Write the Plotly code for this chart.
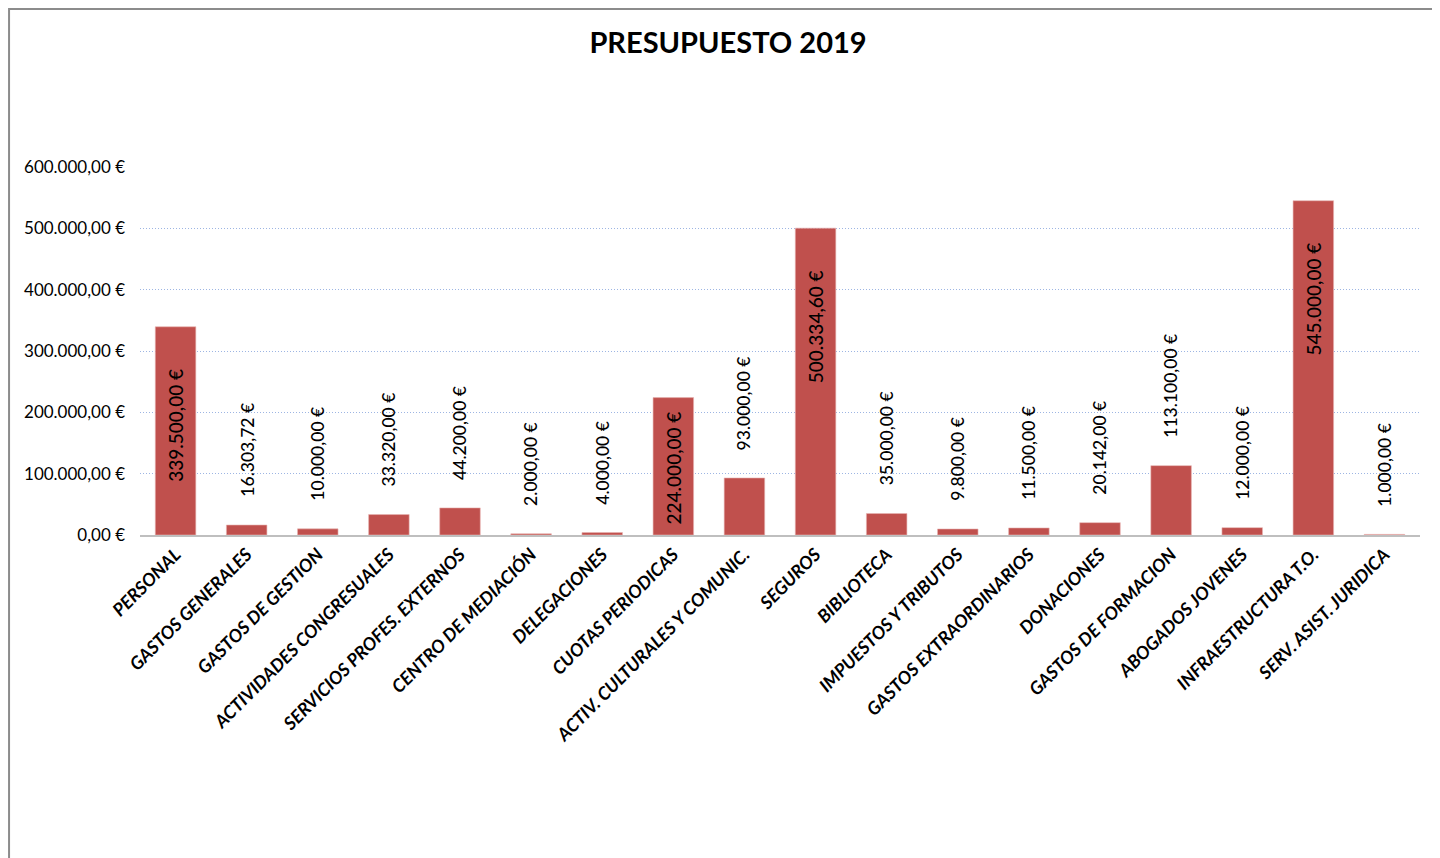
import plotly.graph_objects as go

categories = ["PERSONAL", "GASTOS GENERALES", "GASTOS DE GESTION", "ACTIVIDADES CONGRESUALES",
              "SERVICIOS PROFES. EXTERNOS", "CENTRO DE MEDIACIÓN", "DELEGACIONES", "CUOTAS PERIODICAS",
              "ACTIV. CULTURALES Y COMUNIC.", "SEGUROS", "BIBLIOTECA", "IMPUESTOS Y TRIBUTOS",
              "GASTOS EXTRAORDINARIOS", "DONACIONES", "GASTOS DE FORMACION", "ABOGADOS JOVENES",
              "INFRAESTRUCTURA T.O.", "SERV. ASIST. JURIDICA"]
values = [339500.00, 16303.72, 10000.00, 33320.00, 44200.00, 2000.00, 4000.00, 224000.00,
          93000.00, 500334.60, 35000.00, 9800.00, 11500.00, 20142.00, 113100.00, 12000.00,
          545000.00, 1000.00]
inside_label = [True, False, False, False, False, False, False, True,
                False, True, False, False, False, False, False, False, True, False]
y_ticks = [0, 100000, 200000, 300000, 400000, 500000, 600000]

FONT = "Lato"
BAR = "#C0504D"


def euro(v):
    s = f"{v:,.2f}"
    s = s.replace(",", "X").replace(".", ",").replace("X", ".")
    return s + " €"


fig = go.Figure()
fig.add_trace(go.Bar(
    x=categories, y=values,
    marker=dict(color=BAR, line=dict(color="#E8B5B3", width=0.6)),
    width=0.57,
    hovertemplate="%{x}: %{y:,.2f} €<extra></extra>",
))

for c, v, ins in zip(categories, values, inside_label):
    if ins:
        shift = -40 if v > 300000 else -12
    else:
        shift = 26
    fig.add_annotation(
        x=c, y=v, text=euro(v), textangle=-90, showarrow=False,
        xref="x", yref="y",
        yanchor="top" if ins else "bottom",
        yshift=shift,
        font=dict(family=FONT, size=19 if ins else 17.5, color="#000000", weight=500),
    )

# outer chart border
fig.add_shape(type="rect", xref="paper", yref="paper",
              x0=-0.1023, x1=1.0117, y0=-0.95, y1=1.4293,
              line=dict(color="#8C8C8C", width=2), fillcolor="rgba(0,0,0,0)", layer="below")

fig.update_layout(
    width=1440, height=858,
    paper_bgcolor="white", plot_bgcolor="white",
    margin=dict(l=132, r=28, t=159, b=331),
    separators=",.",
    showlegend=False,
    title=dict(text="<b>PRESUPUESTO 2019</b>", x=0.5, xanchor="center",
               y=1 - 35 / 858, yanchor="middle",
               font=dict(family=FONT, size=29, color="#000000")),
    font=dict(family=FONT, color="#000000"),
)
fig.update_yaxes(
    range=[0, 600000], tickvals=y_ticks, ticktext=[euro(v) for v in y_ticks],
    showgrid=True, gridcolor="#9DB5E3", griddash="1px,2px", gridwidth=1.2,
    zeroline=False, showline=False, ticks="", ticklabelstandoff=14,
    tickfont=dict(family=FONT, size=17, color="#000000"),
)
fig.update_xaxes(
    range=[-0.5, 17.5], tickangle=-45, showline=True, linecolor="#BFBFBF", linewidth=2,
    ticks="", showgrid=False,
    tickfont=dict(family=FONT, size=18, color="#000000", weight="bold", style="italic"),
)

fig.write_html("out.html")
